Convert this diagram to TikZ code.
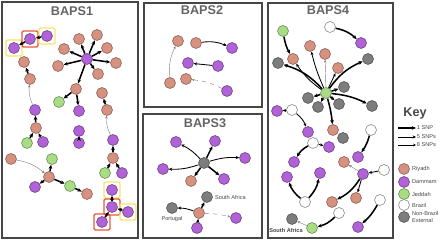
\documentclass[tikz,border=0pt]{standalone}
\usepackage{fontspec}
\setmainfont{Liberation Sans}
\usepackage{tikz}
\usetikzlibrary{arrows.meta, positioning}
\definecolor{riyfill}{RGB}{214,146,128}
\definecolor{riydraw}{RGB}{140,90,80}
\definecolor{damfill}{RGB}{176,98,214}
\definecolor{damdraw}{RGB}{105,60,130}
\definecolor{jedfill}{RGB}{170,220,132}
\definecolor{jeddraw}{RGB}{100,135,80}
\definecolor{extfill}{RGB}{125,125,125}
\definecolor{extdraw}{RGB}{80,80,80}
\definecolor{panelgrey}{RGB}{70,70,70}
\definecolor{titlegrey}{RGB}{100,100,100}
\definecolor{hiyellow}{RGB}{245,228,110}
\definecolor{hired}{RGB}{232,90,60}

\begin{document}
\begin{tikzpicture}[
  x=0.025cm, y=-0.025cm,
  smp/.style={circle, minimum size=11*0.025cm, inner sep=0pt, line width=0.4pt},
  riy/.style={smp, draw=riydraw, fill=riyfill},
  dam/.style={smp, draw=damdraw, fill=damfill},
  jed/.style={smp, draw=jeddraw, fill=jedfill},
  bra/.style={smp, draw=extdraw!70, fill=white},
  ext/.style={smp, draw=extdraw, fill=extfill},
  panel/.style={draw=panelgrey, line width=0.8pt},
  ttl/.style={font=\fontsize{9}{10}\selectfont\bfseries, text=titlegrey},
  yhi/.style={draw=hiyellow, line width=1pt, rounded corners=1pt,
              minimum size=16*0.025cm, inner sep=0pt},
  rhi/.style={draw=hired, line width=1pt, rounded corners=1pt,
              minimum size=16*0.025cm, inner sep=0pt},
  snpone/.style={-{Stealth[length=3pt,width=2.6pt]}, line width=1.1pt},
  snpfive/.style={-{Stealth[length=2.4pt,width=2.2pt]}, line width=0.6pt},
  snpeight/.style={-{Stealth[length=2pt,width=1.8pt]}, line width=0.3pt, draw=gray},
  lbl/.style={font=\fontsize{4}{4.5}\selectfont, text=panelgrey, inner sep=0.5pt}
]
\useasboundingbox (0,0) rectangle (440,240);

% ── Panels ─────────────────────────────────────────────────────
\draw[panel] (2,2) rectangle (138,238);
\draw[panel] (144,3) rectangle (262,107);
\draw[panel] (143,114) rectangle (262,238);
\draw[panel] (268,3) rectangle (393,238);
\node[ttl] (t1) at (72,11)  {BAPS1};
\node[ttl] (t2) at (202,10) {BAPS2};
\node[ttl] (t3) at (205,123) {BAPS3};
\node[ttl] (t4) at (328,10) {BAPS4};

% ── BAPS1 ──────────────────────────────────────────────────────
\node[yhi] at (14,48) {};
\node[rhi] at (30,39) {};
\node[yhi] at (47,36) {};
\node[dam] (a1) at (14,48) {};
\node[dam] (a2) at (30,39) {};
\node[dam] (a3) at (47,36) {};
\node[riy] (b1) at (24,62) {};
\node[riy] (b2) at (30,79) {};
\node[dam] (b3) at (35,110) {};
\node[riy] (b4) at (36,128) {};
\node[jed] (c1) at (27,143) {};
\node[dam] (c2) at (43,142) {};

\node[dam] (hub1) at (87,59) {};
\node[riy] (s1) at (79,39) {};
\node[riy] (s2) at (97,35) {};
\node[riy] (s3) at (107,48) {};
\node[riy] (s4) at (116,63) {};
\node[riy] (s5) at (98,74) {};
\node[riy] (s6) at (64,49) {};
\node[riy] (s7) at (58,66) {};
\node[riy] (m1) at (76,89) {};
\node[jed] (m2) at (59,102) {};
\node[dam] (m3) at (79,111) {};
\node[dam] (d1) at (79,131) {};
\node[dam] (d2) at (79,143) {};

\node[riy] (r1) at (102,93) {};
\node[riy] (r2) at (107,110) {};
\node[dam] (r3) at (113,140) {};
\node[riy] (r4) at (113,158) {};
\node[jed] (r5) at (105,173) {};
\node[dam] (r6) at (122,173) {};
\node[yhi] at (112,190) {};
\node[rhi] at (112,207) {};
\node[yhi] at (128,212) {};
\node[rhi] at (102,222) {};
\node[dam] (r7) at (112,190) {};
\node[dam] (r8) at (112,207) {};
\node[dam] (r9) at (128,212) {};
\node[dam] (r10) at (102,222) {};

\node[riy] (l1) at (11,159) {};
\node[riy] (l2) at (49,177) {};
\node[jed] (l3) at (52,159) {};
\node[dam] (l4) at (35,187) {};
\node[jed] (l5) at (70,186) {};
\node[riy] (l6) at (87,194) {};

\draw[snpone] (a2) -- (a1);
\draw[snpone] (a3) -- (a2);
\draw[snpone] (b2) -- (b1);
\draw[snpeight] (b3) to[bend left=15] (b2);
\draw[snpone] (b4) -- (b3);
\draw[snpone] (c1) -- (b4);
\draw[snpone] (c2) -- (b4);
\foreach \s in {s1,s2,s3,s4,s5,s6,s7,m1}
  \draw[snpone] (hub1) -- (\s);
\draw[snpone] (m1) -- (m2);
\draw[snpone] (m1) -- (m3);
\draw[snpone] (d2) -- (d1);
\draw[snpone] (r2) -- (r1);
\draw[snpeight] (r3) to[bend left=15] (r2);
\draw[snpone] (r4) -- (r3);
\draw[snpone] (r5) -- (r4);
\draw[snpone] (r6) -- (r4);
\draw[snpone] (r8) -- (r7);
\draw[snpone] (r9) -- (r8);
\draw[snpone] (r10) -- (r8);
\draw[snpeight] (l1) to[bend left=15] (l2);
\draw[snpone] (l2) -- (l3);
\draw[snpone] (l2) -- (l4);
\draw[snpone] (l2) -- (l5);
\draw[snpone] (l5) -- (l6);

% ── BAPS2 ──────────────────────────────────────────────────────
\node[riy] (e1) at (178,41) {};
\node[riy] (e2) at (196,43) {};
\node[dam] (e3) at (232,48) {};
\node[dam] (e4) at (188,63) {};
\node[dam] (e5) at (218,66) {};
\node[riy] (e6) at (170,83) {};
\node[riy] (e7) at (186,79) {};
\node[dam] (e8) at (227,91) {};
\draw[snpeight] (e6) to[bend left=15] (e1);
\draw[snpfive] (e2) to[bend left=15] (e3);
\draw[snpfive] (e5) -- (e4);
\draw[snpeight, dashed] (e8) to[bend right=10] (e7);

% ── BAPS3 ──────────────────────────────────────────────────────
\node[ext] (hub3) at (204,163) {};
\node[dam] (f1) at (176,142) {};
\node[dam] (f2) at (215,141) {};
\node[dam] (f3) at (245,158) {};
\node[dam] (f4) at (163,169) {};
\node[riy] (f5) at (191,181) {};
\node[dam] (f6) at (224,179) {};
\draw[snpfive] (hub3) to[bend right=10] (f1);
\draw[snpone] (hub3) -- (f2);
\draw[snpfive] (hub3) to[bend left=10] (f3);
\draw[snpfive] (hub3) to[bend left=10] (f4);
\draw[snpone] (hub3) -- (f5);
\draw[snpone] (hub3) -- (f6);

\node[ext] (g1) at (207,197) {};
\node[lbl, right=1pt of g1] (g1l) {South Africa};
\node[ext] (g2) at (172,208) {};
\node[lbl, below=1pt of g2] (g2l) {Portugal};
\node[riy] (g3) at (199,213) {};
\node[dam] (g4) at (236,218) {};
\node[dam] (g5) at (197,228) {};
\draw[snpone] (g3) -- (g1);
\draw[snpfive] (g3) to[bend right=10] (g2);
\draw[snpeight, dashed] (g3) to[bend left=5] (g4);
\draw[snpone] (g5) -- (g3);

% ── BAPS4 ──────────────────────────────────────────────────────
\node[jed] (h1) at (283,31) {};
\node[bra] (h2) at (330,27) {};
\node[dam] (h3) at (361,43) {};
\node[riy] (h4) at (293,59) {};
\node[riy] (h5) at (310,46) {};
\node[riy] (h6) at (325,54) {};
\node[riy] (h7) at (338,68) {};
\node[ext] (h8) at (278,63) {};
\node[ext] (h9) at (368,59) {};
\node[jed] (hub4) at (326,93) {};
\node[ext] (h10) at (344,87) {};
\node[ext] (h11) at (308,98) {};
\node[ext] (h12) at (318,107) {};
\node[ext] (h13) at (339,104) {};
\node[ext] (h14) at (372,106) {};
\node[dam] (h15) at (277,111) {};
\node[bra] (h16) at (292,110) {};
\draw[snpone] (h1) to[bend right=10] (h4);
\draw[snpone] (h2) to[bend left=15] (h3);
\draw[snpone] (hub4) to[bend right=15] (h8);
\draw[snpone] (hub4) to[bend left=15] (h9);
\draw[snpfive] (hub4) to[bend left=10] (h4);
\draw[snpfive] (hub4) to[bend left=5] (h5);
\draw[snpeight] (hub4) -- (h6);
\draw[snpfive] (hub4) -- (h7);
\foreach \g in {h10,h11,h12,h13}
  \draw[snpone] (hub4) -- (\g);
\draw[snpone] (hub4) to[bend left=10] (h14);
\draw[snpfive] (h16) -- (h15);

\node[dam] (k1) at (308,132) {};
\node[riy] (k2) at (333,130) {};
\node[ext] (k3) at (343,138) {};
\node[bra] (k4) at (313,143) {};
\node[dam] (k5) at (329,147) {};
\node[dam] (k6) at (294,162) {};
\node[bra] (k7) at (371,130) {};
\node[dam] (k8) at (358,157) {};
\node[riy] (k9) at (344,162) {};
\node[dam] (hub5) at (363,174) {};
\node[bra] (k10) at (384,170) {};
\node[riy] (k11) at (332,202) {};
\node[riy] (k12) at (356,198) {};
\node[dam] (k13) at (287,177) {};
\node[bra] (k14) at (305,202) {};
\node[dam] (k15) at (320,173) {};
\node[bra] (k16) at (339,213) {};
\node[jed] (k17) at (312,228) {};
\node[ext] (k18) at (292,219) {};
\node[lbl, font=\fontsize{4}{4.5}\selectfont\bfseries] (k18l) at (286,230) {South Africa};
\node[bra] (k19) at (380,200) {};
\node[dam] (k20) at (358,227) {};
\draw[snpfive] (h16) to[bend left=15] (k1);
\draw[snpone] (hub4) to[bend left=5] (k2);
\draw[snpfive] (k4) -- (k5);
\draw[snpone] (k4) to[bend right=15] (k6);
\draw[snpone] (k7) to[bend left=10] (k8);
\draw[snpeight] (hub5) -- (k9);
\draw[snpfive] (k10) -- (hub5);
\draw[snpone] (hub5) to[bend left=15] (k11);
\draw[snpfive] (hub5) -- (k12);
\draw[snpone] (k14) to[bend left=15] (k13);
\draw[snpone] (k14) to[bend right=15] (k15);
\draw[snpone] (k16) to[bend left=15] (k17);
\draw[snpeight] (k17) -- (k18);
\draw[snpone] (k19) to[bend left=10] (k20);

% ── Key ────────────────────────────────────────────────────────
\node[ttl, text=panelgrey] (key) at (415,113) {Key};
\coordinate (kone) at (398,128);
\coordinate (kfive) at (398,137);
\coordinate (keight) at (398,145);
\node[lbl, anchor=west] (kone l) at (416,128) {1 SNP};
\node[lbl, anchor=west] (kfive l) at (416,137) {5 SNPs};
\node[lbl, anchor=west] (keight l) at (416,145) {8 SNPs};
\draw[snpone] (kone) -- (kone l.west);
\draw[snpfive] (kfive) -- (kfive l.west);
\draw[snpeight, draw=black] (keight) -- (keight l.west);

\node[riy] (kr) at (404,169) {};
\node[dam] (kd) at (404,182) {};
\node[jed] (kj) at (404,194) {};
\node[bra] (kb) at (404,205) {};
\node[ext] (ke) at (404,217) {};
\node[lbl, right=1pt of kr] {Riyadh};
\node[lbl, right=1pt of kd] {Dammam};
\node[lbl, right=1pt of kj] {Jeddah};
\node[lbl, right=1pt of kb] {Brazil};
\node[lbl, right=1pt of ke, align=left] {Non-Brazil\\External};

\end{tikzpicture}
\end{document}
